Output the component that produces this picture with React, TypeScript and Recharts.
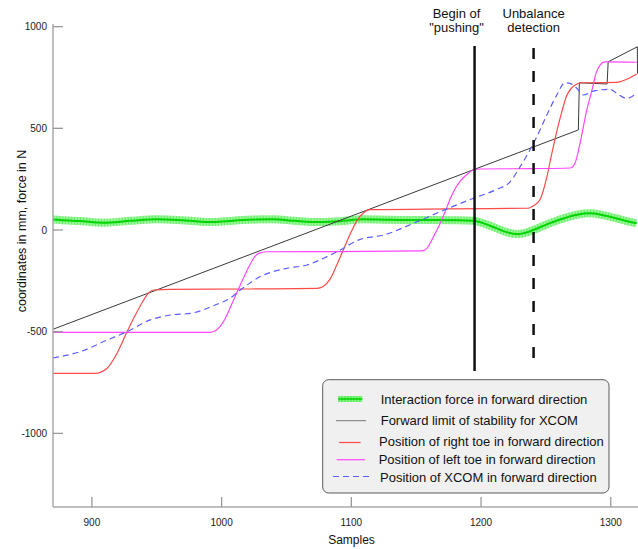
import React from 'react';
import { LineChart, Line, XAxis, YAxis, ReferenceLine, Legend } from 'recharts';

const FONT = "'Liberation Sans', Arial, sans-serif";

// ---- axes ----
const xTicks = [900, 1000, 1100, 1200, 1300];
const yTicks = [-1000, -500, 0, 500, 1000];

// ---- Interaction force in forward direction ----
const forceX = [870, 875.4, 890.8, 908.8, 929.6, 950.2, 972, 993.6, 1009, 1025.9, 1039.8, 1056.7, 1076, 1091.4, 1109.1, 1129.9, 1160.8, 1193.9, 1203.1, 1212.1, 1218.5, 1227.6, 1234, 1240.3, 1251.6, 1263.5, 1274, 1284, 1294, 1304.6, 1313.3, 1320];
const forceY = [52, 49, 44, 36, 45, 53, 47, 39, 46, 52, 53, 45, 39, 43, 53, 50, 49, 46, 30, 8, -8, -20, -14, 0, 30, 57, 75, 82, 73, 57, 42, 33];

// ---- Forward limit of stability for XCOM ----
const limitX = [870, 1275, 1275.8, 1297.2, 1298, 1320.5, 1320.6];
const limitY = [-488, 492, 724, 718, 827, 901, 770];

// ---- Position of right toe ----
const rightX = [870, 902.7, 906.5, 911.7, 919.4, 927.1, 933.5, 939.9, 943.5, 947.6, 960.4, 1022.1, 1073.5, 1078.3, 1083.7, 1088.9, 1094, 1099.1, 1104.3, 1109.4, 1114.5, 1176.2, 1236.3, 1240.1, 1245.5, 1250.7, 1254, 1258.4, 1262.2, 1266, 1270, 1274, 1278, 1304.6, 1312.3, 1320];
const rightY = [-705, -705, -700, -680, -606, -500, -418, -344, -310, -295, -292, -290, -287, -278, -240, -170, -95, -20, 45, 85, 100, 104, 107, 118, 150, 260, 360, 485, 580, 660, 700, 718, 724, 726, 741, 767];

// ---- Position of left toe ----
const leftX = [870, 991.3, 996.4, 1001.5, 1005.4, 1009.2, 1014.4, 1019.5, 1024.6, 1028.5, 1034.9, 1088.9, 1154.4, 1158.2, 1163.3, 1168.5, 1172.3, 1177.5, 1183.9, 1187.7, 1194.1, 1199.3, 1240, 1268.6, 1272.5, 1276.3, 1281.5, 1285.6, 1288.6, 1291.7, 1295.5, 1320];
const leftY = [-503, -503, -490, -450, -400, -344, -270, -200, -140, -115, -107, -106, -103, -90, -33, 33, 90, 172, 240, 265, 295, 300, 302, 305, 330, 426, 590, 690, 770, 811, 827, 825];

// ---- Position of XCOM ----
const xcomX = [870, 891.1, 911.7, 927.1, 945, 960.4, 975.8, 996.4, 1006.6, 1014.4, 1029.8, 1050.4, 1065.8, 1081.2, 1088.9, 1106.8, 1124.8, 1147.9, 1168.5, 1194.1, 1212.1, 1222.4, 1230.1, 1243, 1250.7, 1258.4, 1264.7, 1268.6, 1273.8, 1278.9, 1286.6, 1299.4, 1304.6, 1312.3, 1320];
const xcomY = [-629, -598, -541, -500, -442, -418, -410, -365, -335, -295, -229, -188, -172, -131, -107, -46, -25, 33, 90, 156, 200, 237, 311, 459, 565, 664, 724, 721, 697, 664, 683, 692, 672, 647, 672];

// ---- event markers ----
const eventSamples = [1195, 1240.5];
const eventBottoms = [-693, -669];
const eventTops = [905, 895];
const eventTexts = [['Begin of', '"pushing"'], ['Unbalance', 'detection']];

const legendItems = [
  'Interaction force in forward direction',
  'Forward limit of stability for XCOM',
  'Position of right toe in forward direction',
  'Position of left toe in forward direction',
  'Position of XCOM in forward direction',
];

const toPoints = (xs: number[], ys: number[]) => xs.map((x, i) => ({ x, y: ys[i] }));
const forceData = toPoints(forceX, forceY);
const limitData = toPoints(limitX, limitY);
const rightData = toPoints(rightX, rightY);
const leftData = toPoints(leftX, leftY);
const xcomData = toPoints(xcomX, xcomY);

const RED = '#ff4a4a';
const MAGENTA = '#ff45ff';
const BLUE = '#5c5cff';
const BLACK = '#3a3a3a';

const XTick = (props: any) => {
  const { x, y, payload } = props;
  return (
    <g>
      <line x1={x} x2={x} y1={y} y2={y - 10} stroke="#999" strokeWidth={1.3} />
      <text x={x} y={y + 19} textAnchor="middle" fontSize={10} fontFamily={FONT} fill="#222">
        {payload.value}
      </text>
    </g>
  );
};

const YTick = (props: any) => {
  const { x, y, payload } = props;
  return (
    <g>
      <line x1={x + 6} x2={x + 16} y1={y} y2={y} stroke="#999" strokeWidth={1.3} />
      <text x={x} y={y + 3.5} textAnchor="end" fontSize={10} fontFamily={FONT} fill="#222">
        {payload.value}
      </text>
    </g>
  );
};

const makeEventLabel = (idx: number, dx: number) => (props: any) => {
  const vb = props.viewBox || {};
  const cx = (vb.x ?? 0) + dx;
  return (
    <g>
      <text x={cx} y={17.5} textAnchor="middle" fontSize={13} fontFamily={FONT} fill="#111">
        {eventTexts[idx][0]}
      </text>
      <text x={cx} y={32} textAnchor="middle" fontSize={13} fontFamily={FONT} fill="#111">
        {eventTexts[idx][1]}
      </text>
    </g>
  );
};

const renderLegend = () => {
  const rowsY = [20, 41.7, 62.5, 80.7, 98.5];
  const textX = [58.7, 58.7, 57, 56.7, 58];
  return (
    <svg width={290} height={117} style={{ display: 'block', overflow: 'visible' }}>
      <rect x={0.7} y={0.7} width={286.3} height={113.3} rx={6} ry={6} fill="#f0f0f0" stroke="#5a5a5a" strokeWidth={1} />
      {/* force swatch */}
      <line x1={16.3} x2={40.3} y1={rowsY[0]} y2={rowsY[0]} stroke="#86f586" strokeWidth={6} />
      <line x1={16.3} x2={40.3} y1={rowsY[0]} y2={rowsY[0]} stroke="#33dd33" strokeWidth={6} strokeDasharray="1.2 1.8" opacity={0.6} />
      <line x1={16.3} x2={40.3} y1={rowsY[0]} y2={rowsY[0]} stroke="#00d000" strokeWidth={1.5} />
      <line x1={14} x2={44} y1={rowsY[1]} y2={rowsY[1]} stroke="#777" strokeWidth={1} />
      <line x1={17} x2={38.7} y1={rowsY[2] + 1} y2={rowsY[2] + 1} stroke={RED} strokeWidth={1.2} />
      <line x1={14.7} x2={43} y1={rowsY[3]} y2={rowsY[3]} stroke={MAGENTA} strokeWidth={1.2} />
      <line x1={11} x2={48} y1={rowsY[4] - 1} y2={rowsY[4] - 1} stroke={BLUE} strokeWidth={1.2} strokeDasharray="6 4" />
      {legendItems.map((t, i) => (
        <text key={t} x={textX[i]} y={rowsY[i] + 4.6} fontSize={13} fontFamily={FONT} fill="#111">
          {t}
        </text>
      ))}
    </svg>
  );
};

export default function App() {
  return (
    <div style={{ position: 'absolute', left: 0, top: 0, width: 638, height: 549, background: '#fff' }}>
      <LineChart width={638} height={549} margin={{ top: 24, right: 0, bottom: 0, left: 0 }}>
        <XAxis
          type="number"
          dataKey="x"
          domain={[870, 1321]}
          ticks={xTicks}
          interval={0}
          allowDataOverflow
          height={42}
          axisLine={{ stroke: '#aaa', strokeWidth: 1.5 }}
          tickLine={false}
          tickSize={0}
          tickMargin={0}
          tick={<XTick />}
          label={{
            content: (p: any) => {
              const vb = p.viewBox || {};
              return (
                <text x={(vb.x ?? 0) + (vb.width ?? 0) / 2 + 6} y={(vb.y ?? 0) + 37} textAnchor="middle" fontSize={12} fontFamily={FONT} fill="#111">
                  Samples
                </text>
              );
            },
          }}
        />
        <YAxis
          type="number"
          domain={[-1362, 1013]}
          ticks={yTicks}
          interval={0}
          allowDataOverflow
          width={53}
          axisLine={{ stroke: '#aaa', strokeWidth: 1.5 }}
          tickLine={false}
          tickSize={0}
          tickMargin={6}
          tick={<YTick />}
          label={{
            content: () => (
              <text x={25.5} y={231} transform="rotate(-90, 25.5, 231)" textAnchor="middle" fontSize={12.5} fontFamily={FONT} fill="#111">
                coordinates in mm, force in N
              </text>
            ),
          }}
        />

        {/* Interaction force: textured thick band */}
        <Line data={forceData} dataKey="y" type="monotone" stroke="#8af78a" strokeWidth={8} strokeOpacity={0.85} dot={false} activeDot={false} isAnimationActive={false} legendType="none" />
        <Line data={forceData} dataKey="y" type="monotone" stroke="#36dc36" strokeWidth={8} strokeOpacity={0.45} strokeDasharray="1.2 1.8" dot={false} activeDot={false} isAnimationActive={false} legendType="none" />
        <Line data={forceData} dataKey="y" type="monotone" stroke="#00d400" strokeWidth={2} dot={false} activeDot={false} isAnimationActive={false} name={legendItems[0]} />

        <Line data={limitData} dataKey="y" type="linear" stroke={BLACK} strokeWidth={1} dot={false} activeDot={false} isAnimationActive={false} name={legendItems[1]} />
        <Line data={rightData} dataKey="y" type="monotone" stroke={RED} strokeWidth={1.2} dot={false} activeDot={false} isAnimationActive={false} name={legendItems[2]} />
        <Line data={leftData} dataKey="y" type="monotone" stroke={MAGENTA} strokeWidth={1.2} dot={false} activeDot={false} isAnimationActive={false} name={legendItems[3]} />
        <Line data={xcomData} dataKey="y" type="monotone" stroke={BLUE} strokeWidth={1.2} strokeDasharray="6 4" dot={false} activeDot={false} isAnimationActive={false} name={legendItems[4]} />

        <ReferenceLine
          segment={[{ x: eventSamples[0], y: eventTops[0] }, { x: eventSamples[0], y: eventBottoms[0] }]}
          stroke="#111"
          strokeWidth={2.5}
          label={makeEventLabel(0, -18)}
        />
        <ReferenceLine
          segment={[{ x: eventSamples[1], y: eventTops[1] }, { x: eventSamples[1], y: eventBottoms[1] }]}
          stroke="#111"
          strokeWidth={2.5}
          strokeDasharray="11 12"
          label={makeEventLabel(1, 0)}
        />

        <Legend
          layout="vertical"
          align="center"
          verticalAlign="middle"
          content={renderLegend}
          wrapperStyle={{ position: 'absolute', left: 322, top: 379, width: 290, height: 117 }}
        />
      </LineChart>
    </div>
  );
}
